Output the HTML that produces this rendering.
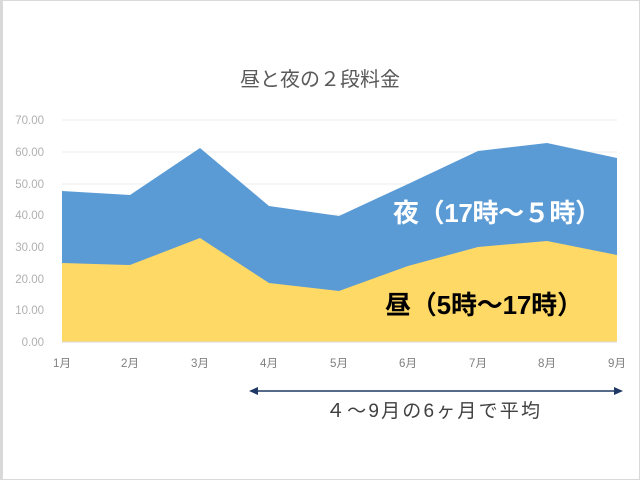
<!DOCTYPE html>
<html><head><meta charset="utf-8"><style>
body{margin:0;background:#fff}
svg{display:block}
text{font-family:"Liberation Sans","Noto Sans CJK JP",sans-serif}
</style></head><body>
<svg width="640" height="480" viewBox="0 0 640 480">
<rect x="0.5" y="0.5" width="639" height="479" fill="#fff" stroke="#d9d9d9" stroke-width="1"/>
<rect x="0" y="0" width="3" height="480" fill="#d9d9d9"/>
<text x="320" y="86" font-size="20" fill="#595959" text-anchor="middle">昼と夜の２段料金</text>
<g stroke="#ececec" stroke-width="1">
<line x1="62" y1="120" x2="617" y2="120"/><line x1="62" y1="152" x2="617" y2="152"/>
<line x1="62" y1="184" x2="617" y2="184"/><line x1="62" y1="215" x2="617" y2="215"/>
<line x1="62" y1="247" x2="617" y2="247"/><line x1="62" y1="279" x2="617" y2="279"/>
<line x1="62" y1="310" x2="617" y2="310"/>
</g>
<g font-size="11.5" fill="#b0b0b0" text-anchor="end">
<text x="44" y="124">70.00</text><text x="44" y="156">60.00</text><text x="44" y="188">50.00</text>
<text x="44" y="219">40.00</text><text x="44" y="251">30.00</text><text x="44" y="283">20.00</text>
<text x="44" y="314">10.00</text><text x="44" y="346">0.00</text>
</g>
<polygon fill="#5B9BD5" points="62,342 62,191 130,195 200,148 269,206 339,216 408,184 478,151 547,143 617,158 617,342"/>
<polygon fill="#FFD966" points="62,342 62,263 130,265 200,238 269,283 339,291 408,266 478,247 547,241 617,255 617,342"/>
<line x1="62" y1="342" x2="617" y2="342" stroke="#d9d9d9"/>
<g font-size="11.5" fill="#7f7f7f" text-anchor="middle">
<text x="62" y="367">1月</text><text x="130" y="367">2月</text><text x="200" y="367">3月</text>
<text x="269" y="367">4月</text><text x="339" y="367">5月</text><text x="408" y="367">6月</text>
<text x="478" y="367">7月</text><text x="547" y="367">8月</text><text x="617" y="367">9月</text>
</g>
<text x="497" y="222" font-size="26" font-weight="600" fill="#fff" text-anchor="middle" textLength="208">夜（17時～５時）</text>
<text x="484" y="314" font-size="26" font-weight="bold" fill="#000" text-anchor="middle" textLength="198">昼（5時～17時）</text>
<line x1="254" y1="391" x2="618" y2="391" stroke="#1f3864" stroke-width="1.5"/>
<polygon points="249,391 258,387 258,395" fill="#1f3864"/>
<polygon points="623,391 614,387 614,395" fill="#1f3864"/>
<text x="433" y="417" font-size="19" fill="#404040" text-anchor="middle" textLength="214">４～9月の6ヶ月で平均</text>
</svg>
</body></html>
